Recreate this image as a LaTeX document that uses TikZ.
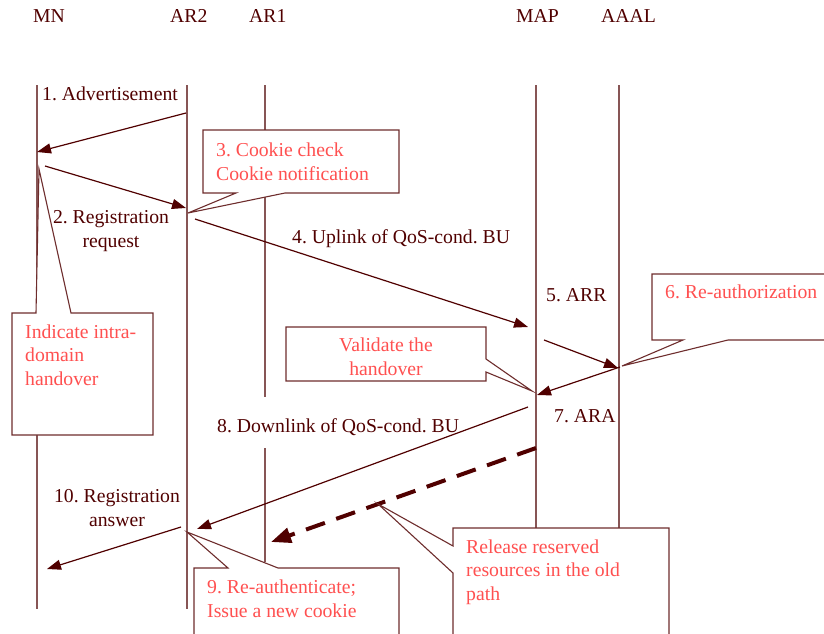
\documentclass[tikz,border=0pt]{standalone}
\usepackage{fontspec}
\setmainfont{Liberation Serif}
\usetikzlibrary{arrows.meta}
\definecolor{ink}{RGB}{80,0,0}
\definecolor{life}{RGB}{135,85,85}
\definecolor{frame}{RGB}{110,45,45}
\definecolor{note}{RGB}{255,80,80}
\frenchspacing
\begin{document}
\begin{tikzpicture}[x=1pt,y=-1pt,
  txt/.style={font=\fontsize{19.7}{23.5}\selectfont, text=ink, inner sep=0pt},
  notetxt/.style={txt, text=note},
  lifeline/.style={draw=life, line width=1.4pt},
  msg/.style={draw=ink, line width=1.2pt, -{Triangle[length=14pt,width=10pt]}},
  bigmsg/.style={draw=ink, line width=4pt, dash pattern=on 20pt off 12pt, -{Triangle[length=20pt,width=15pt]}},
  callout/.style={draw=frame, line width=1.1pt, fill=white, line join=miter}]
\useasboundingbox (0,0) rectangle (824,634);

% lifeline heads
\node[txt, anchor=base west] (hMN)   at (33,23)  {MN};
\node[txt, anchor=base west] (hAR2)  at (170,23) {AR2};
\node[txt, anchor=base west] (hAR1)  at (249,23) {AR1};
\node[txt, anchor=base west] (hMAP)  at (516,23) {MAP};
\node[txt, anchor=base west] (hAAAL) at (601,23) {AAAL};

% lifelines
\coordinate (mnT) at (37,85);    \coordinate (mnB) at (37,609);
\coordinate (ar2T) at (187,85);  \coordinate (ar2B) at (187,609);
\coordinate (ar1T) at (265,85);  \coordinate (ar1M) at (265,397);
\coordinate (ar1N) at (265,448); \coordinate (ar1B) at (265,562);
\coordinate (mapT) at (536,85);  \coordinate (mapB) at (536,530);
\coordinate (aaT) at (619,85);   \coordinate (aaB) at (619,530);
\draw[lifeline] (mnT) -- (mnB);
\draw[lifeline] (ar2T) -- (ar2B);
\draw[lifeline] (ar1T) -- (ar1M);
\draw[lifeline] (ar1N) -- (ar1B);
\draw[lifeline] (mapT) -- (mapB);
\draw[lifeline] (aaT) -- (aaB);

% message end points
\coordinate (m1a) at (186,113); \coordinate (m1b) at (37,152);
\coordinate (m2a) at (45,166);  \coordinate (m2b) at (186,208);
\coordinate (m4a) at (195,219); \coordinate (m4b) at (528,327);
\coordinate (m5a) at (544,340); \coordinate (m5b) at (618,368);
\coordinate (m7a) at (620,367); \coordinate (m7b) at (537,395);
\coordinate (m8a) at (528,407); \coordinate (m8b) at (197,529);
\coordinate (rsa) at (536,448); \coordinate (rsb) at (271,542);
\coordinate (m10a) at (181,527); \coordinate (m10b) at (47,569);

\draw[msg] (m1a) -- (m1b);
\draw[msg] (m2a) -- (m2b);
\draw[msg] (m4a) -- (m4b);
\draw[msg] (m5a) -- (m5b);
\draw[msg] (m7a) -- (m7b);
\draw[msg] (m8a) -- (m8b);
\draw[msg] (m10a) -- (m10b);
\draw[bigmsg] (rsa) -- (rsb);

% message labels (multi-line nodes are placed by their last baseline)
\node[txt, anchor=base west] (l1) at (42,100) {1. Advertisement};
\node[txt, anchor=base, align=center] (l2) at (111,247) {2. Registration\\request};
\node[txt, anchor=base west] (l4) at (292,243) {4. Uplink of QoS-cond. BU};
\node[txt, anchor=base west] (l5) at (546,301) {5. ARR};
\node[txt, anchor=base west] (l7) at (554,422) {7. ARA};
\node[txt, anchor=base west] (l8) at (217,432) {8. Downlink of QoS-cond. BU};
\node[txt, anchor=base, align=center] (l10) at (117,526) {10. Registration\\answer};

% callouts
\draw[callout] (203,130) -- (399,130) -- (399,193) -- (285,193) -- (188,213) -- (236,193) -- (203,193) -- cycle;
\node[notetxt, anchor=base west, align=left] (n3) at (216,180) {3. Cookie check\\Cookie notification};

\draw[callout] (12,313) -- (36,313) -- (39,169) -- (71,313) -- (153,313) -- (153,435) -- (12,435) -- cycle;
\node[notetxt, anchor=base west, align=left] (nho) at (25,385) {Indicate intra-\\domain\\handover};

\draw[callout] (286,327) -- (486,327) -- (486,359) -- (532,391) -- (486,372) -- (486,381) -- (286,381) -- cycle;
\node[notetxt, anchor=base, align=center] (nval) at (386,375) {Validate the\\handover};

\draw[callout] (830,274) -- (652,274) -- (652,340) -- (683,340) -- (622,366) -- (728,340) -- (830,340);
\node[notetxt, anchor=base west] (n6) at (665,298) {6. Re-authorization};

\draw[callout] (194,640) -- (194,568) -- (228,568) -- (187,532) -- (278,568) -- (399,568) -- (399,640);
\node[notetxt, anchor=base west, align=left] (n9) at (207,617) {9. Re-authenticate;\\Issue a new cookie};

\draw[callout] (453,640) -- (453,573) -- (378,504) -- (453,546) -- (453,528) -- (669,528) -- (669,640);
\node[notetxt, anchor=base west, align=left] (nrel) at (466,600) {Release reserved\\resources in the old\\path};
\end{tikzpicture}
\end{document}
